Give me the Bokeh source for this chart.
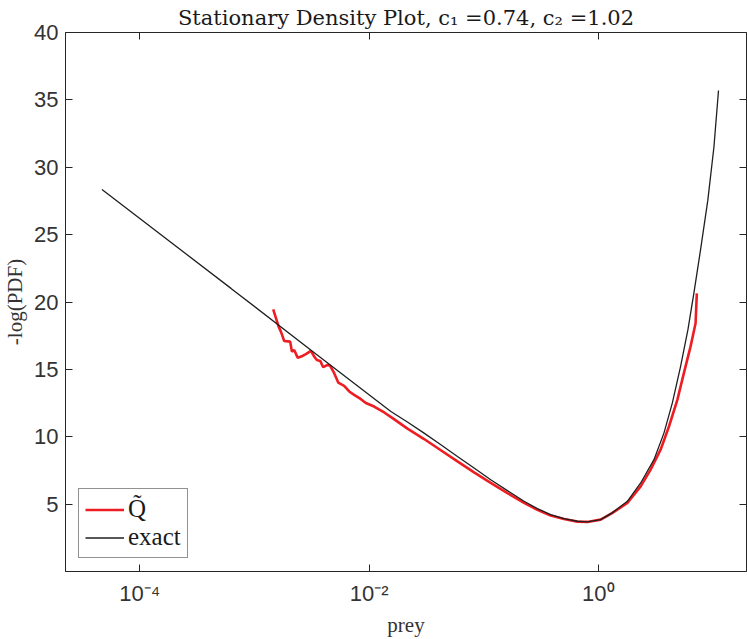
from bokeh.plotting import figure
from bokeh.models import (FixedTicker, LogAxis, LinearAxis, Legend, LegendItem,
                          CustomJSTickFormatter, Range1d)
from bokeh.embed import file_html
from bokeh.resources import INLINE

# ---- data ----
exact_x = [4.68e-5, 6.25e-4, 3.16e-3, 1.55e-2, 2.16e-2, 3.02e-2, 4.23e-2, 5.90e-2,
           8.24e-2, 0.1151, 0.161, 0.2249, 0.2938, 0.3837, 0.501, 0.656, 0.802,
           1.047, 1.318, 1.791, 2.339, 3.055, 3.733, 4.416, 5.212, 6.039, 6.808,
           7.78, 9.016, 10.19, 11.17]
exact_y = [28.35, 21.01, 16.39, 11.87, 11.09, 10.27, 9.41, 8.54, 7.68, 6.81, 6.00,
           5.21, 4.67, 4.22, 3.93, 3.73, 3.68, 3.85, 4.35, 5.21, 6.57, 8.30, 10.27,
           12.50, 15.21, 17.93, 20.64, 23.85, 27.56, 31.50, 35.70]

q_x = [1.459e-3, 1.626e-3, 1.702e-3, 1.820e-3, 2.051e-3, 2.123e-3, 2.223e-3,
       2.382e-3, 2.630e-3, 2.812e-3, 2.944e-3, 3.112e-3, 3.327e-3, 3.508e-3,
       3.750e-3, 3.981e-3, 4.345e-3, 4.581e-3, 4.966e-3, 5.383e-3, 6.067e-3,
       6.714e-3, 7.413e-3, 8.492e-3, 9.376e-3, 1.107e-2, 1.355e-2, 1.603e-2,
       2.163e-2, 3.020e-2, 4.227e-2, 5.902e-2, 8.241e-2, 0.1151, 0.1611, 0.2249,
       0.2938, 0.3837, 0.5012, 0.6561, 0.8017, 1.047, 1.318, 1.791, 2.339, 2.858,
       3.491, 4.130, 4.887, 5.572, 6.368, 7.047, 7.228]
q_y = [19.46, 18.17, 17.80, 17.11, 17.06, 16.32, 16.44, 15.87, 16.00, 16.13, 16.24,
       16.37, 15.95, 15.70, 15.63, 15.16, 15.33, 15.26, 14.72, 14.02, 13.78, 13.36,
       13.11, 12.79, 12.50, 12.24, 11.80, 11.38, 10.60, 9.83, 9.00, 8.17, 7.36, 6.57,
       5.82, 5.09, 4.58, 4.15, 3.90, 3.70, 3.68, 3.85, 4.33, 5.09, 6.32, 7.56, 9.04,
       10.76, 12.74, 14.72, 16.69, 18.42, 20.64]

x_tick_values = [1e-4, 1e-2, 1.0]
x_tick_labels = ["10\u207b\u2074", "10\u207b\u00b2", "10\u2070"]
y_tick_values = [5, 10, 15, 20, 25, 30, 35, 40]

title_text = "Stationary Density Plot, c\u2081 =0.74, c\u2082 =1.02"
x_label = "prey"
y_label = "-log(PDF)"
legend_labels = ["Q\u0303", "exact"]

x_limits = (2.25e-5, 19.6)
y_limits = (0, 40)

AX = "#262626"
TICK_TXT = "#333333"
SERIF = "Liberation Serif"
SANS = "Liberation Sans"

p = figure(width=747, height=639, x_axis_type="log",
           x_range=Range1d(*x_limits), y_range=Range1d(*y_limits),
           output_backend="svg", toolbar_location=None,
           min_border_left=64, min_border_right=1, min_border_top=32,
           min_border_bottom=67)

p.xgrid.visible = False
p.ygrid.visible = False
p.background_fill_color = "white"
p.border_fill_color = "white"
p.outline_line_color = AX
p.outline_line_width = 1

fmt = CustomJSTickFormatter(args=dict(vals=x_tick_values, labs=x_tick_labels), code="""
let best = 0, bd = Infinity;
for (let i = 0; i < vals.length; i++) {
  const d = Math.abs(Math.log10(tick) - Math.log10(vals[i]));
  if (d < bd) { bd = d; best = i; }
}
return labs[best];
""")
xa = p.xaxis[0]
xa.ticker = FixedTicker(ticks=x_tick_values, minor_ticks=[])
xa.formatter = fmt
ya = p.yaxis[0]
ya.ticker = FixedTicker(ticks=y_tick_values, minor_ticks=[])

for ax in (xa, ya):
    ax.axis_line_color = AX
    ax.major_tick_line_color = AX
    ax.major_tick_in = 7
    ax.major_tick_out = 0
    ax.minor_tick_in = 0
    ax.minor_tick_out = 0
    ax.major_label_text_font = SANS
    ax.major_label_text_font_size = "22px"
    ax.major_label_text_color = TICK_TXT
    ax.axis_label_text_font = SERIF
    ax.axis_label_text_font_size = "21px"
    ax.axis_label_text_font_style = "normal"
    ax.axis_label_text_color = TICK_TXT

xa.axis_label = x_label
xa.major_label_standoff = 9
xa.axis_label_standoff = 4
ya.axis_label = y_label
ya.major_label_standoff = 7
ya.axis_label_standoff = 4

# mirrored ticks on top and right
blank = CustomJSTickFormatter(code="return '';")
top = LogAxis(ticker=FixedTicker(ticks=x_tick_values, minor_ticks=[]), formatter=blank)
right = LinearAxis(ticker=FixedTicker(ticks=y_tick_values, minor_ticks=[]), formatter=blank)
for ax in (top, right):
    ax.axis_line_color = None
    ax.major_tick_line_color = AX
    ax.major_tick_in = 7
    ax.major_tick_out = 0
    ax.minor_tick_in = 0
    ax.minor_tick_out = 0
    ax.major_label_text_font_size = "0px"
    ax.major_label_standoff = 0
    ax.axis_label_standoff = 0
p.add_layout(top, "above")
p.add_layout(right, "right")

p.title.text = title_text
p.title.text_font = "DejaVu Serif"
p.title.text_font_size = "21px"
p.title.text_font_style = "normal"
p.title.text_color = "#1a1a1a"
p.title.align = "center"
p.title.standoff = 5

r_q = p.line(q_x, q_y, line_color="#ee1d23", line_width=2.6)
r_e = p.line(exact_x, exact_y, line_color="#1f1f1f", line_width=1.3)

legend = Legend(items=[LegendItem(label=legend_labels[0], renderers=[r_q]),
                       LegendItem(label=legend_labels[1], renderers=[r_e])],
                location=(13, 13))
legend.label_text_font = SERIF
legend.label_text_font_size = "25px"
legend.label_text_color = "#1a1a1a"
legend.border_line_color = AX
legend.border_line_width = 1
legend.background_fill_color = "white"
legend.background_fill_alpha = 1
legend.padding = 6
legend.spacing = 0
legend.margin = 0
legend.glyph_width = 39
legend.glyph_height = 27
legend.label_height = 27
legend.label_standoff = 4
p.add_layout(legend, "center")

open("out.html", "w").write(file_html(p, INLINE))
